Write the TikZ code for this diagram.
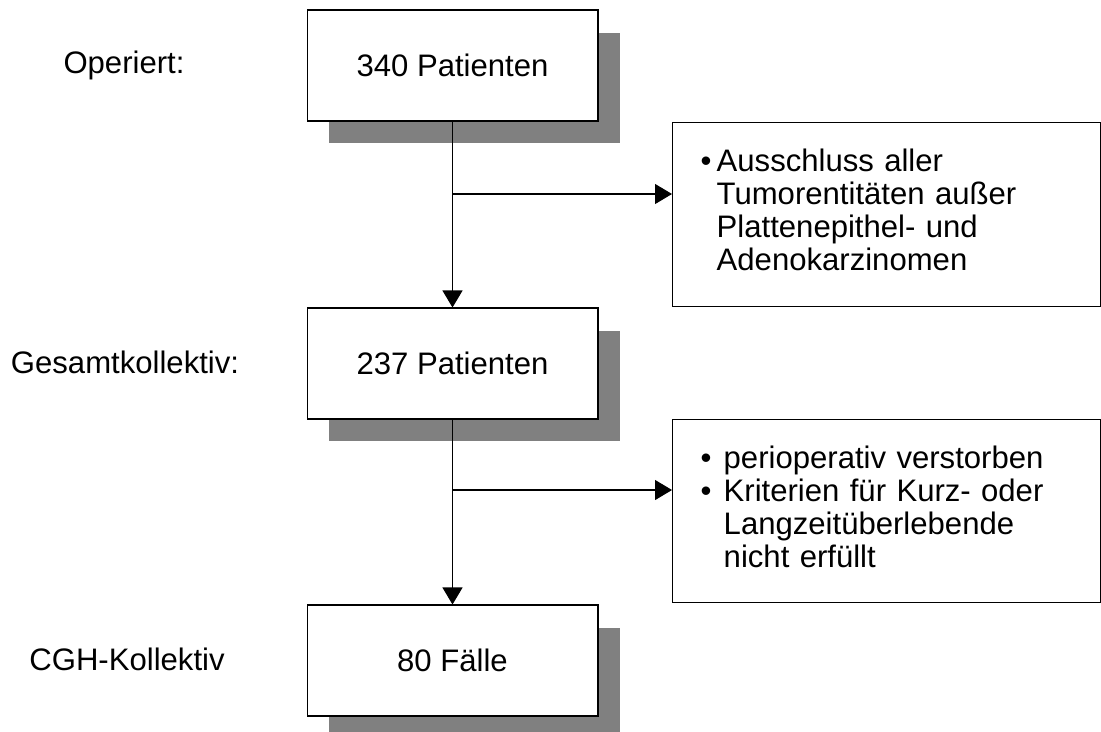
\documentclass[tikz,border=0pt]{standalone}
\usepackage{fontspec}
\setmainfont{Liberation Sans}
\usetikzlibrary{positioning,shadows,arrows.meta}
\tikzset{main box/.style={draw,fill=white,line width=0.6pt,minimum width=5.82cm,minimum height=2.22cm,inner sep=0pt,
    drop shadow={shadow xshift=0.44cm,shadow yshift=-0.45cm,fill=gray,opacity=1}},
  side box/.style={draw,line width=0.6pt,text width=7.44cm,inner xsep=0.56cm,inner ysep=0pt,align=left,anchor=north west},
  row text/.style={font=\fontsize{17.7pt}{18.8pt}\selectfont},
  flow arrow/.style={line width=0.6pt,-{Triangle[length=0.34cm,width=0.4cm]}},
}

\begin{document}
\begin{tikzpicture}[x=0.02cm,y=-0.02cm,row text]
\useasboundingbox (0,0) rectangle (1101,731);

%% main column
\node[main box] (box1) at (452.5,65.5) {340 Patienten};
\node[main box] (box2) [below = 3.72cm of box1] {237 Patienten};
\node[main box] (box3) [below = 3.70cm of box2] {80 F\"alle};

%% row labels
\node (lab1) at (124,65.5) {Operiert:};
\node (lab2) at (125,362.5) {Gesamtkollektiv:};
\node (lab3) at (127,659) {CGH-Kollektiv};

%% exclusions
\node[side box,minimum height=3.68cm] (side1) at (672,122)
  {\begin{tabular}{@{}l@{\hspace{3pt}}l@{}}
   \textbullet & Ausschluss aller\\
   & Tumorentit\"aten au\ss er\\
   & Plattenepithel- und\\
   & Adenokarzinomen
   \end{tabular}};
\node[side box,minimum height=3.66cm] (side2) at (672,419)
  {\begin{tabular}{@{}l@{\hspace{7pt}}l@{}}
   \textbullet & perioperativ verstorben\\
   \textbullet & Kriterien f\"ur Kurz- oder\\
   & Langzeit\"uberlebende\\
   & nicht erf\"ullt
   \end{tabular}};

\coordinate (br1) at (452.5,194);
\coordinate (br2) at (452.5,490);

\draw[flow arrow] (box1) -- (box2);
\draw[flow arrow] (box2) -- (box3);
\draw[flow arrow] (br1) -- (br1 -| side1.west);
\draw[flow arrow] (br2) -- (br2 -| side2.west);
\end{tikzpicture}
\end{document}
